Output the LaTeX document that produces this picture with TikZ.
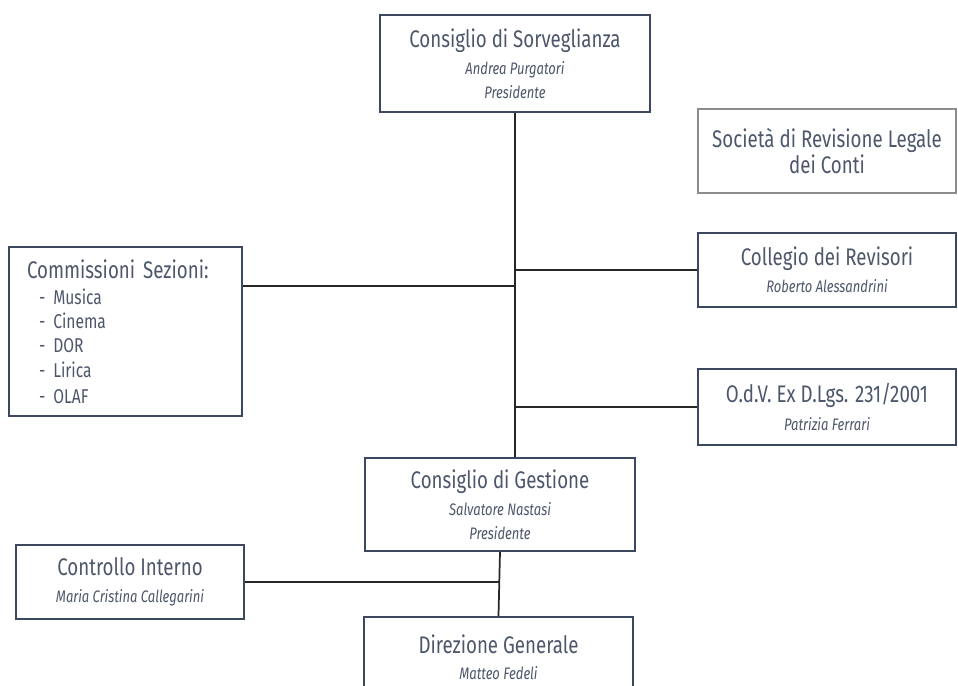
\documentclass[tikz,border=0pt]{standalone}
\usepackage{fontspec}
\setmainfont{Fira Sans}[FakeStretch=0.78]
\usetikzlibrary{calc}

\definecolor{boxline}{HTML}{3B4860}
\definecolor{boxtext}{HTML}{4D576B}
\definecolor{greyline}{HTML}{8C8C8C}

\newcommand{\who}[1]{{\fontsize{12.5}{16.5}\selectfont\itshape #1}}

\begin{document}
\begin{tikzpicture}
  [
    x=0.75pt, y=-0.75pt,
    box/.style =
      {draw=boxline, line width=1.6pt, fill=white, align=center, text=boxtext,
       inner sep=0pt, font=\fontsize{18}{19.5}\selectfont},
    greybox/.style =
      {box, draw=greyline},
    link/.style =
      {draw=black!85, line width=1.3pt}
  ]

\useasboundingbox (0,0) rectangle (958,686);
\clip (0,0) rectangle (958,686);

% top of the chart
\node[box, minimum width=270*0.75pt, minimum height=97*0.75pt] (sorv) at (515,63.5)
  {Consiglio di Sorveglianza\\[1pt] \who{Andrea Purgatori}\\[-2pt] \who{Presidente}};

\node[greybox, minimum width=258*0.75pt, minimum height=84*0.75pt] (soc) at (827,151)
  {Società di Revisione Legale\\ dei Conti};

% side boxes
\node[box, align=left, minimum width=233*0.75pt, minimum height=169*0.75pt,
      text width=197*0.75pt] (comm) at (125.5,331.5)
  {Commissioni Sezioni:\\[1pt]
   {\fontsize{15}{18.3}\selectfont
    \hspace*{9pt}- Musica\\ \hspace*{9pt}- Cinema\\ \hspace*{9pt}- DOR\\
    \hspace*{9pt}- Lirica\\ \hspace*{9pt}- OLAF}};

\node[box, minimum width=258*0.75pt, minimum height=74*0.75pt] (coll) at (827,270)
  {Collegio dei Revisori\\[1pt] \who{Roberto Alessandrini}};

\node[box, minimum width=258*0.75pt, minimum height=76*0.75pt] (odv) at (827,407)
  {O.d.V. Ex D.Lgs. 231/2001\\[1pt] \who{Patrizia Ferrari}};

% management
\node[box, minimum width=270*0.75pt, minimum height=93*0.75pt] (gest) at (500,504.5)
  {Consiglio di Gestione\\[1pt] \who{Salvatore Nastasi}\\[-2pt] \who{Presidente}};

\node[box, minimum width=228*0.75pt, minimum height=74*0.75pt] (ctrl) at (130,582)
  {Controllo Interno\\[1pt] \who{Maria Cristina Callegarini}};

\node[box, minimum width=269*0.75pt, minimum height=80*0.75pt] (dir) at (498.5,657)
  {Direzione Generale\\ \who{Matteo Fedeli}};

% connectors
\coordinate (commjoin) at (sorv.south |- 0,286);

\draw[link] (sorv.south) -- (sorv.south |- gest.north);
\draw[link] (comm.east |- commjoin) -- (commjoin);
\draw[link] (sorv.south |- coll.west) -- (coll.west);
\draw[link] (sorv.south |- odv.west) -- (odv.west);

\draw[link] (gest.south) -- (dir.north);
\draw[link] (ctrl.east) -- (ctrl.east -| gest.south);

\end{tikzpicture}
\end{document}
